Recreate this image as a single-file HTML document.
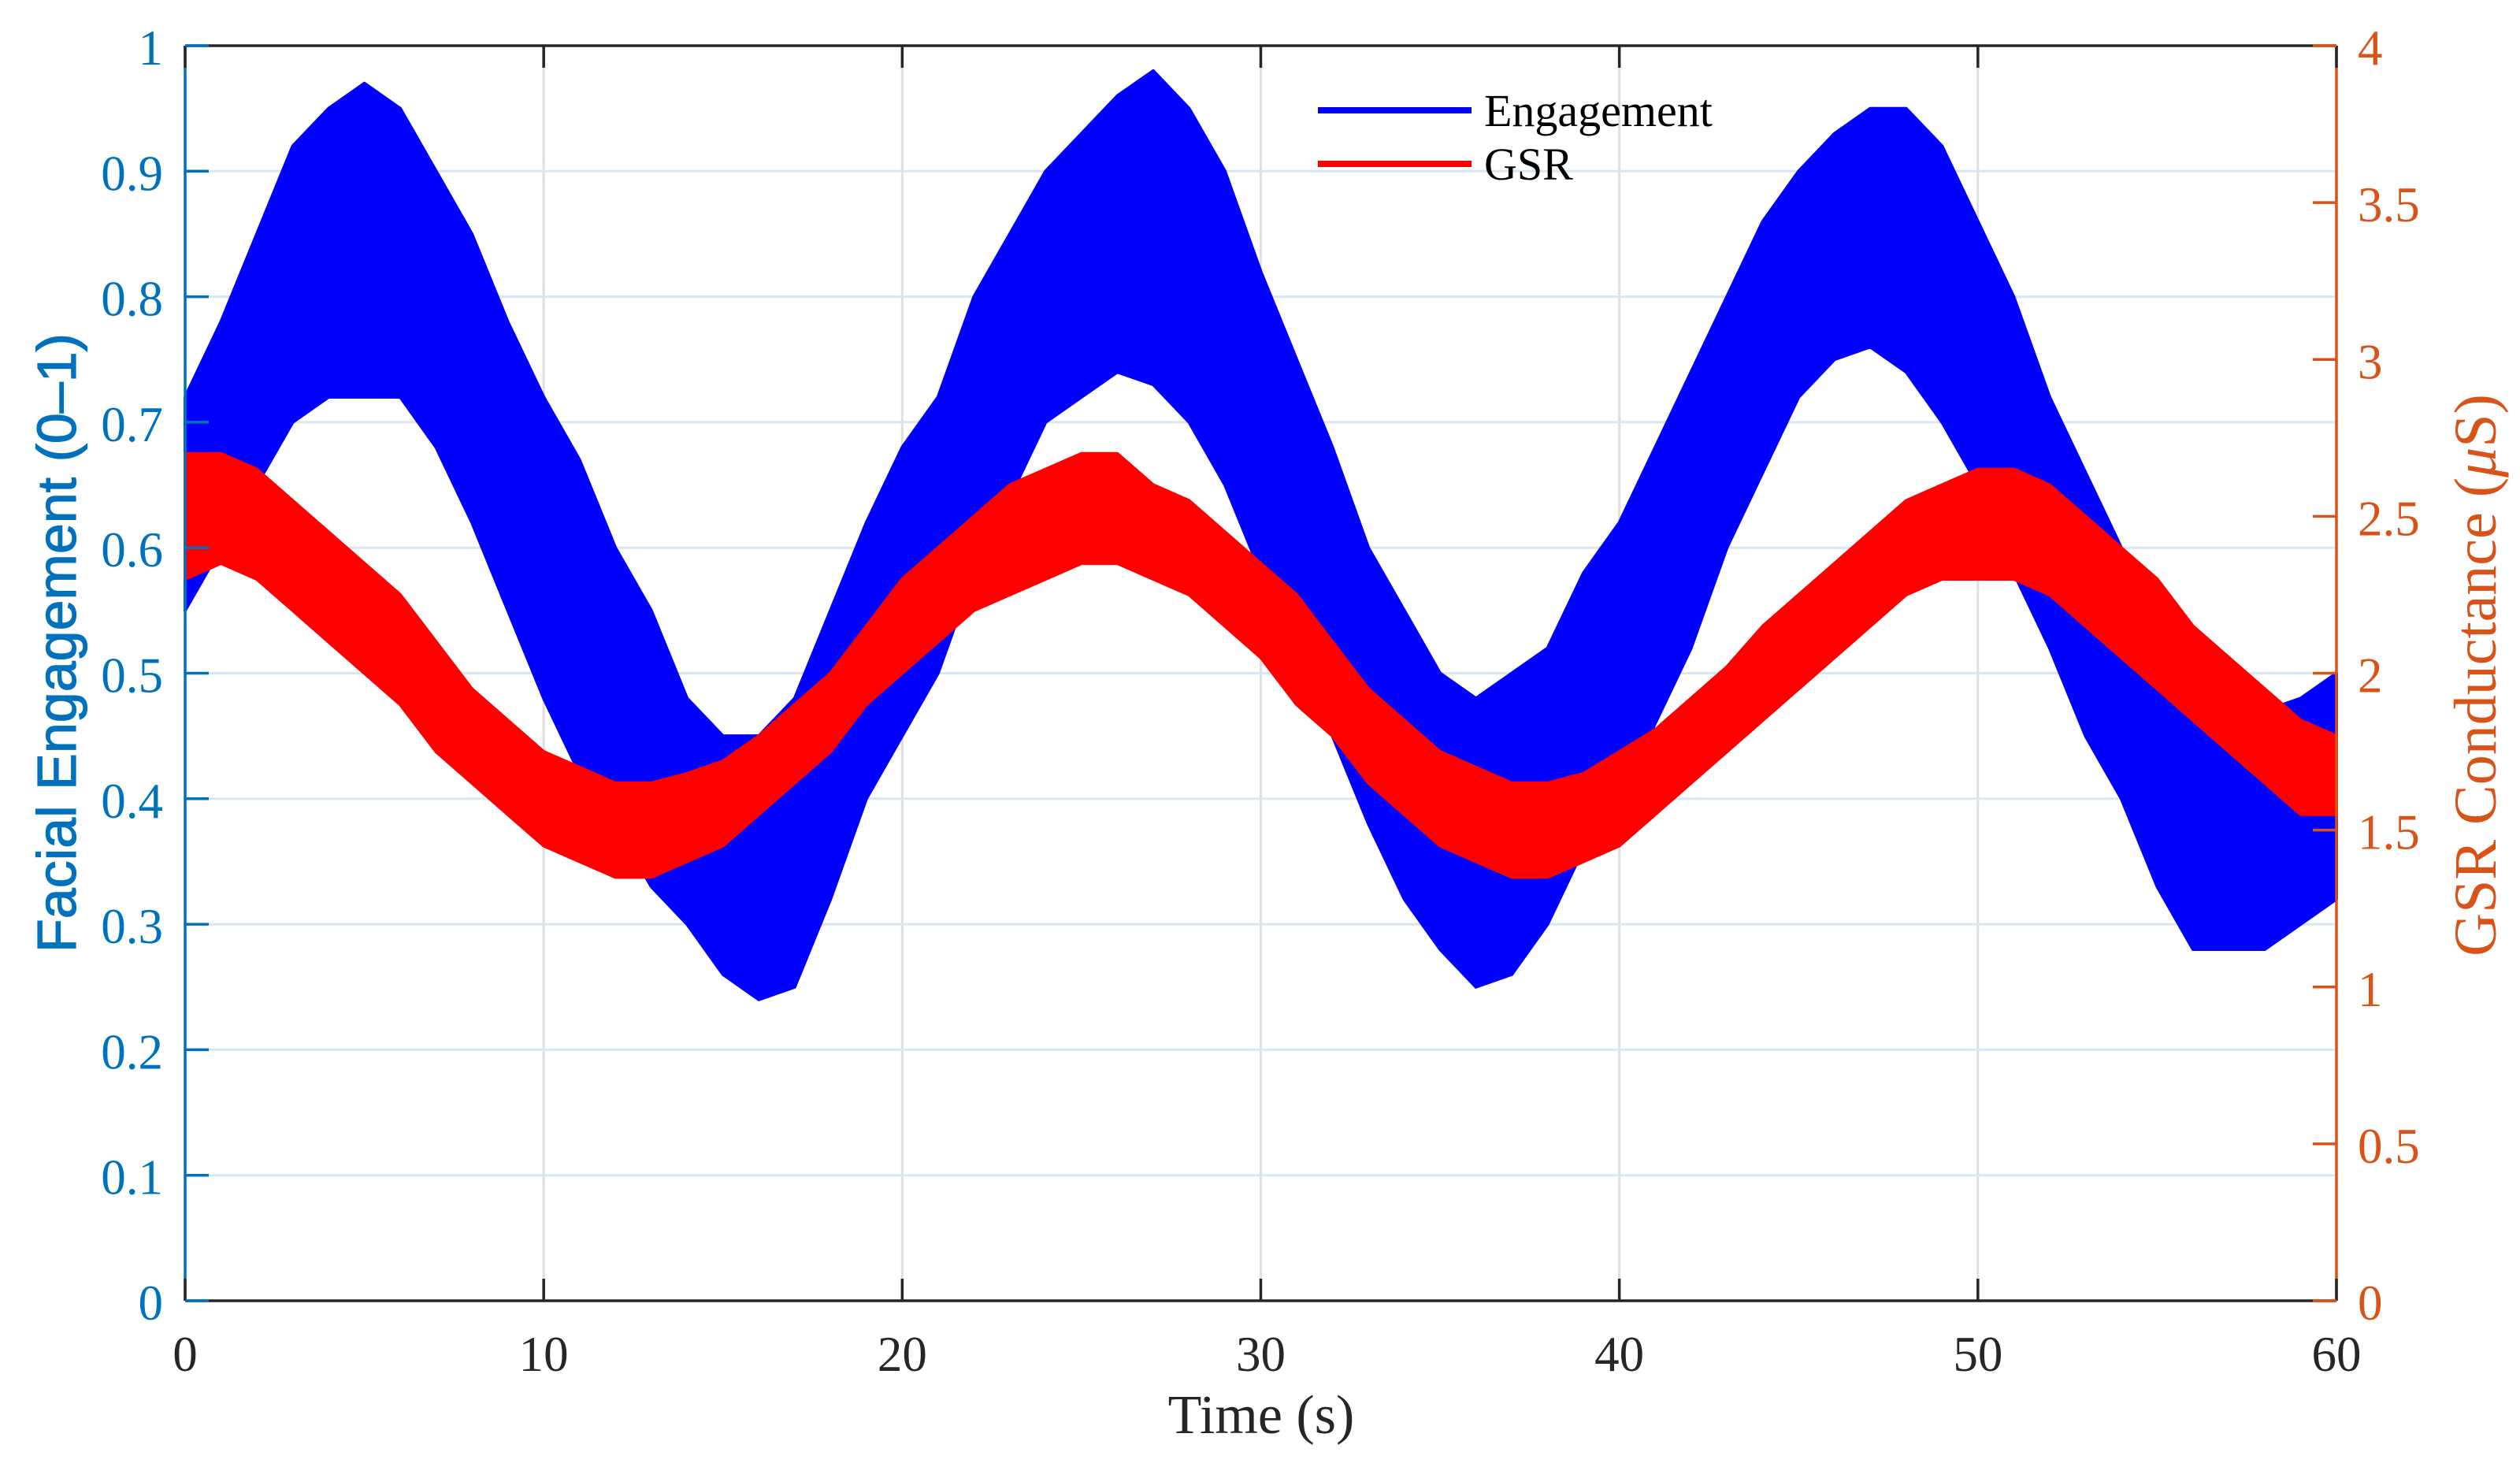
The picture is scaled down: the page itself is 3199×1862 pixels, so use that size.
<!DOCTYPE html>
<html><head><meta charset="utf-8">
<style>
html,body{margin:0;padding:0;background:#fff;}
svg{display:block;}
text{font-family:"Liberation Serif",serif;}
</style></head>
<body>
<svg id="chart" width="3199" height="1862" viewBox="0 0 3199 1862" xmlns="http://www.w3.org/2000/svg">
<rect x="0" y="0" width="3199" height="1862" fill="#fff"/>
<g id="grid"></g>
<g id="series"></g>
<g id="axes"></g>
<g id="legend">
  <line x1="1673" y1="140" x2="1868" y2="140" stroke="#0000ff" stroke-width="8"/>
  <text x="1884" y="160" font-size="58" fill="#000">Engagement</text>
  <line x1="1673" y1="208" x2="1868" y2="208" stroke="#ff0000" stroke-width="8"/>
  <text x="1884" y="228" font-size="58" fill="#000">GSR</text>
</g>
<text x="1601" y="1819" font-size="70" fill="#262626" text-anchor="middle">Time (s)</text>
<text transform="translate(96,816) rotate(-90)" font-size="70" fill="#0072bd" text-anchor="middle" stroke="#0072bd" stroke-width="1.2" style="font-family:'Liberation Sans',sans-serif">Facial Engagement (0–1)</text>
<text transform="translate(3168,857) rotate(-90)" font-size="76" fill="#d95319" text-anchor="middle">GSR Conductance (<tspan font-style="italic">μ</tspan>S)</text>
</svg>
<script>
const times = [];
for (let i = 0; i <= 60; i++) times.push(i);
const engLow  = [0.55,0.60,0.65,0.70,0.72,0.72,0.72,0.68,0.62,0.55,0.48,0.42,0.38,0.33,0.30,0.26,0.24,0.25,0.32,0.40,0.45,0.50,0.58,0.64,0.70,0.72,0.74,0.73,0.70,0.65,0.58,0.50,0.45,0.38,0.32,0.28,0.25,0.26,0.30,0.36,0.40,0.46,0.52,0.60,0.66,0.72,0.75,0.76,0.74,0.70,0.65,0.58,0.52,0.45,0.40,0.33,0.28,0.28,0.28,0.30,0.32];
const engHigh = [0.72,0.78,0.85,0.92,0.95,0.97,0.95,0.90,0.85,0.78,0.72,0.67,0.60,0.55,0.48,0.45,0.45,0.48,0.55,0.62,0.68,0.72,0.80,0.85,0.90,0.93,0.96,0.98,0.95,0.90,0.82,0.75,0.68,0.60,0.55,0.50,0.48,0.50,0.52,0.58,0.62,0.68,0.74,0.80,0.86,0.90,0.93,0.95,0.95,0.92,0.86,0.80,0.72,0.66,0.60,0.52,0.48,0.46,0.47,0.48,0.50];
const gsrLow  = [2.30,2.35,2.30,2.20,2.10,2.00,1.90,1.75,1.65,1.55,1.45,1.40,1.35,1.35,1.40,1.45,1.55,1.65,1.75,1.90,2.00,2.10,2.20,2.25,2.30,2.35,2.35,2.30,2.25,2.15,2.05,1.90,1.80,1.65,1.55,1.45,1.40,1.35,1.35,1.40,1.45,1.55,1.65,1.75,1.85,1.95,2.05,2.15,2.25,2.30,2.30,2.30,2.25,2.15,2.05,1.95,1.85,1.75,1.65,1.55,1.55];
const gsrHigh = [2.70,2.70,2.65,2.55,2.45,2.35,2.25,2.10,1.95,1.85,1.75,1.70,1.65,1.65,1.68,1.72,1.80,1.90,2.00,2.15,2.30,2.40,2.50,2.60,2.65,2.70,2.70,2.60,2.55,2.45,2.35,2.25,2.10,1.95,1.85,1.75,1.70,1.65,1.65,1.68,1.75,1.82,1.92,2.02,2.15,2.25,2.35,2.45,2.55,2.60,2.65,2.65,2.60,2.50,2.40,2.30,2.15,2.05,1.95,1.85,1.80];
const xTicks = [0,10,20,30,40,50,60];
const leftTicks = [0,0.1,0.2,0.3,0.4,0.5,0.6,0.7,0.8,0.9,1];
const leftTickLabels = ["0","0.1","0.2","0.3","0.4","0.5","0.6","0.7","0.8","0.9","1"];
const rightTicks = [0,0.5,1,1.5,2,2.5,3,3.5,4];
const rightTickLabels = ["0","0.5","1","1.5","2","2.5","3","3.5","4"];

const L=235, R=2966, T=58, B=1651;
const NS="http://www.w3.org/2000/svg";
function xS(t){return L+(t-0)/(60-0)*(R-L);}
function yL(v){return B-(v-0)/(1-0)*(B-T);}
function yR(v){return B-(v-0)/(4-0)*(B-T);}
function mk(tag,attrs,parent){const e=document.createElementNS(NS,tag);for(const k in attrs)e.setAttribute(k,attrs[k]);parent.appendChild(e);return e;}

const grid=document.getElementById('grid');
xTicks.forEach((t,i)=>{
  if(t===0||t===60) return;
  const g=mk('line',{x1:xS(t),y1:T,x2:xS(t),y2:B,stroke:'#dfdfdf','stroke-width':3},grid);
  
  
});
leftTicks.forEach(v=>{
  if(v===0||v===1) return;
  const g=mk('line',{x1:L,y1:yL(v),x2:R,y2:yL(v),stroke:'#d9e7f2','stroke-width':3},grid);
  
  
});

const series=document.getElementById('series');
function band(lo,hi,yf,color,name){
  let d='';
  times.forEach((t,i)=>{d+=(i?'L':'M')+xS(t).toFixed(1)+','+yf(hi[i]).toFixed(1);});
  for(let i=times.length-1;i>=0;i--){d+='L'+xS(times[i]).toFixed(1)+','+yf(lo[i]).toFixed(1);}
  d+='Z';
  const p=mk('path',{d:d,fill:color,stroke:color,'stroke-width':4,'stroke-linejoin':'round'},series);
  
  
}
band(engLow,engHigh,yL,'#0000ff','engagement-series');
band(gsrLow,gsrHigh,yR,'#ff0000','gsr-series');

const axes=document.getElementById('axes');
let a=mk('line',{x1:L,y1:T,x2:R,y2:T,stroke:'#262626','stroke-width':3.5},axes);


a=mk('line',{x1:L,y1:B,x2:R,y2:B,stroke:'#262626','stroke-width':3.5},axes);


a=mk('line',{x1:L,y1:T,x2:L,y2:B,stroke:'#0072bd','stroke-width':3.5},axes);


a=mk('line',{x1:R,y1:T,x2:R,y2:B,stroke:'#d95319','stroke-width':3.5},axes);



xTicks.forEach((t,i)=>{
  let tk=mk('line',{x1:xS(t),y1:B,x2:xS(t),y2:B-28,stroke:'#262626','stroke-width':3.5},axes);
  
  
  tk=mk('line',{x1:xS(t),y1:T,x2:xS(t),y2:T+28,stroke:'#262626','stroke-width':3.5},axes);
  
  
  const lb=mk('text',{x:xS(t),y:1740,'font-size':63,fill:'#262626','text-anchor':'middle'},axes);
  lb.textContent=String(t);
  
  
});
leftTicks.forEach((v,i)=>{
  const tk=mk('line',{x1:L,y1:yL(v),x2:L+30,y2:yL(v),stroke:'#0072bd','stroke-width':3.5},axes);
  
  
  const lb=mk('text',{x:207,y:yL(v)+24,'font-size':63,fill:'#0072bd','text-anchor':'end'},axes);
  lb.textContent=leftTickLabels[i];
  
  
});
rightTicks.forEach((v,i)=>{
  const tk=mk('line',{x1:R,y1:yR(v),x2:R-30,y2:yR(v),stroke:'#d95319','stroke-width':3.5},axes);
  
  
  const lb=mk('text',{x:2993,y:yR(v)+24,'font-size':63,fill:'#d95319','text-anchor':'start'},axes);
  lb.textContent=rightTickLabels[i];
  
  
});
</script>
</body></html>
